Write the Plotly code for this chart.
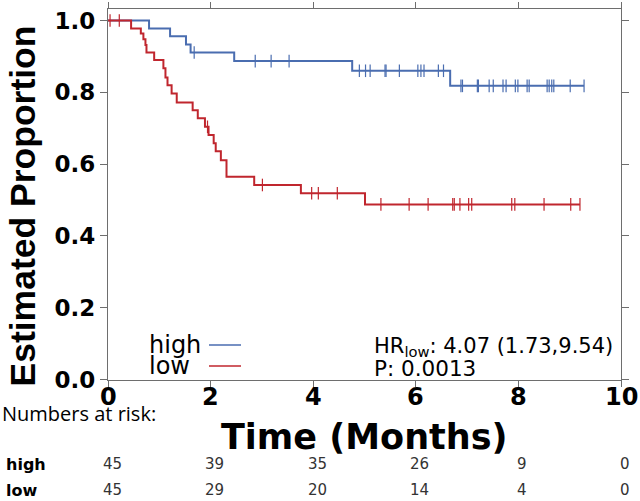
import numpy as np
import plotly.graph_objects as go

# ---- data ----
high_time = [0, 0.80, 1.21, 1.52, 1.61, 2.46, 4.76, 6.67, 9.28]
high_surv = [1.0, 0.978, 0.956, 0.933, 0.911, 0.887, 0.860, 0.818, 0.818]
high_censor = [1.68, 2.87, 3.18, 3.53, 4.90, 5.02, 5.11, 5.40, 5.42, 5.68, 6.04, 6.10,
               6.16, 6.44, 6.54, 6.88, 6.91, 7.20, 7.22, 7.43, 7.51, 7.70, 7.76, 7.94,
               7.99, 8.17, 8.21, 8.56, 8.60, 8.65, 8.69, 9.01, 9.28]

low_time = [0, 0.45, 0.64, 0.69, 0.73, 0.75, 0.90, 1.08, 1.12, 1.16, 1.24, 1.34, 1.65,
            1.75, 1.89, 1.96, 2.06, 2.10, 2.20, 2.31, 2.85, 3.76, 5.01, 9.20]
low_surv = [1.0, 0.978, 0.964, 0.948, 0.932, 0.911, 0.890, 0.867, 0.841, 0.820, 0.797,
            0.772, 0.750, 0.728, 0.704, 0.681, 0.658, 0.636, 0.611, 0.565, 0.542, 0.519,
            0.488, 0.488]
low_censor = [0.04, 0.22, 1.94, 3.01, 3.97, 4.10, 4.47, 5.32, 5.87, 6.24, 6.72, 6.75,
              6.86, 7.03, 7.09, 7.87, 7.93, 8.50, 9.02, 9.20]

risk_times = [0, 2, 4, 6, 8, 10]
risk_high = [45, 39, 35, 26, 9, 0]
risk_low = [45, 29, 20, 14, 4, 0]

x_ticks = [0, 2, 4, 6, 8, 10]
y_ticks = [0.0, 0.2, 0.4, 0.6, 0.8, 1.0]

BLUE = "#4a6db0"
RED = "#c0262e"
FRAME = "#6e6e6e"
DV = "DejaVu Sans, sans-serif"


def step_value(times, surv, t):
    idx = np.searchsorted(np.asarray(times), t, side="right") - 1
    return [surv[i] for i in idx]


fig = go.Figure()
for times, surv, cens, col in [(high_time, high_surv, high_censor, BLUE),
                               (low_time, low_surv, low_censor, RED)]:
    fig.add_trace(go.Scatter(x=times, y=surv, mode="lines", line=dict(color=col, width=2, shape="hv"),
                             showlegend=False, hoverinfo="skip"))
    fig.add_trace(go.Scatter(x=cens, y=step_value(times, surv, cens), mode="markers",
                             marker=dict(symbol="line-ns", size=9, line=dict(color=col, width=1.2)),
                             showlegend=False, hoverinfo="skip"))

L, R, T, B = 108, 19, 9, 121
W, H = 640, 501
pw = W - L - R
ph = H - T - B

fig.update_layout(
    width=W, height=H,
    margin=dict(l=L, r=R, t=T, b=B, pad=0),
    paper_bgcolor="white", plot_bgcolor="white",
    xaxis=dict(range=[0, 10], tickvals=x_ticks, showticklabels=False,
               showline=True, linecolor=FRAME, linewidth=1.2, mirror="ticks",
               ticks="outside", ticklen=6, tickcolor=FRAME, tickwidth=1.2,
               showgrid=False, zeroline=False, automargin=False),
    yaxis=dict(range=[-0.001, 1.032], tickvals=y_ticks, ticktext=[f"{v:.1f}" for v in y_ticks],
               showline=True, linecolor=FRAME, linewidth=1.2, mirror="ticks",
               ticks="outside", ticklen=7, tickcolor=FRAME, tickwidth=1.2,
               showgrid=False, zeroline=False, automargin=False,
               tickfont=dict(family=DV, size=23, color="black", weight="bold")),
)

ann = []
# x tick labels
for t in x_ticks:
    ann.append(dict(text=str(t), xref="x", yref="paper", x=t, y=0, yshift=-17,
                    showarrow=False, xanchor="center", yanchor="middle",
                    font=dict(family=DV, size=24, color="black", weight="bold")))
# axis titles
ann.append(dict(text="Estimated Proportion", xref="paper", yref="paper", x=0, y=0.5,
                xshift=-86, yshift=-12, textangle=-90, showarrow=False, xanchor="center",
                yanchor="middle",
                font=dict(family="Liberation Sans, Arial, sans-serif", size=35.5, color="black",
                          weight="bold")))
ann.append(dict(text="Time (Months)", xref="paper", yref="paper", x=0.5, y=0,
                yshift=-57, showarrow=False, xanchor="center", yanchor="middle",
                font=dict(family=DV, size=35, color="black", weight="bold")))
# legend inside
for label, col, yy in [("high", BLUE, 345), ("low", RED, 366)]:
    ann.append(dict(text=label, xref="paper", yref="paper", x=(147 - L) / pw, y=0,
                    yshift=380 - yy, showarrow=False, xanchor="left", yanchor="middle",
                    font=dict(family=DV, size=24, color="black")))
# HR / P
ann.append(dict(text="HR<sub>low</sub>: 4.07 (1.73,9.54)", xref="paper", yref="paper",
                x=(372 - L) / pw, y=0, yshift=380 - 347, showarrow=False, xanchor="left",
                yanchor="middle", font=dict(family=DV, size=21, color="black")))
ann.append(dict(text="P: 0.0013", xref="paper", yref="paper",
                x=(372 - L) / pw, y=0, yshift=380 - 368, showarrow=False, xanchor="left",
                yanchor="middle", font=dict(family=DV, size=21.5, color="black")))
# risk table
ann.append(dict(text="Numbers at risk:", xref="paper", yref="paper", x=-L / pw, y=0,
                yshift=380 - 413, showarrow=False, xanchor="left", yanchor="middle",
                font=dict(family="Open Sans, sans-serif", size=20, color="black")))
for label, vals, yy in [("high", risk_high, 464), ("low", risk_low, 490)]:
    ann.append(dict(text=label, xref="paper", yref="paper", x=(4 - L) / pw, y=0,
                    yshift=380 - yy, showarrow=False, xanchor="left", yanchor="middle",
                    font=dict(family=DV, size=16, color="black", weight="bold")))
    for t, v in zip(risk_times, vals):
        ann.append(dict(text=str(v), xref="x", yref="paper", x=t, y=0, xshift=4,
                        yshift=380 - yy, showarrow=False, xanchor="center", yanchor="middle",
                        font=dict(family=DV, size=15, color="#333333")))
fig.update_layout(annotations=ann)

# legend line samples
shapes = []
for col, yy in [(BLUE, 345), (RED, 366)]:
    yv = (380 - yy) / ph
    shapes.append(dict(type="line", xref="paper", yref="paper",
                       x0=(209 - L) / pw, x1=(241 - L) / pw, y0=yv, y1=yv,
                       line=dict(color=col, width=1.5)))
fig.update_layout(shapes=shapes)

fig.write_html("out.html", config={"displayModeBar": False},
               post_script="document.body.style.margin='0';document.body.style.padding='0';")
